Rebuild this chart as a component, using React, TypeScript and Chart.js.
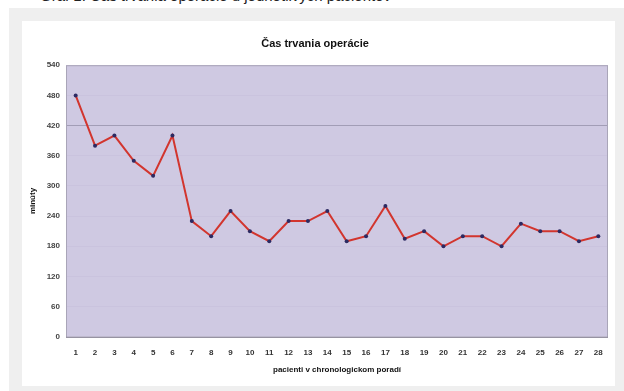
import React, { useEffect, useRef } from "react";
import { Chart, registerables } from "chart.js";

Chart.register(...registerables);

// Operation time (minutes) for each patient in chronological order
const patients: string[] = [
  "1", "2", "3", "4", "5", "6", "7", "8", "9", "10", "11", "12", "13", "14",
  "15", "16", "17", "18", "19", "20", "21", "22", "23", "24", "25", "26", "27", "28",
];
const minutes: number[] = [
  480, 380, 400, 350, 320, 400, 230, 200, 250, 210, 190, 230, 230, 250,
  190, 200, 260, 195, 210, 180, 200, 200, 180, 225, 210, 210, 190, 200,
];
const yTicks: number[] = [0, 60, 120, 180, 240, 300, 360, 420, 480, 540];

const chartTitle = "Čas trvania operácie";
const yTitle = "minúty";
const xTitle = "pacienti v chronologickom poradí";
const caption = "Graf 1. Čas trvania operácie u jednotlivých pacientov";

const FONT = "'Liberation Sans', Arial, sans-serif";

// Lavender plot area with a thin border, painted before the datasets
const plotBackground = {
  id: "plotBackground",
  beforeDraw(chart: Chart) {
    const { ctx, chartArea } = chart;
    if (!chartArea) return;
    ctx.save();
    ctx.fillStyle = "#cfc9e2";
    ctx.fillRect(chartArea.left, chartArea.top, chartArea.right - chartArea.left, chartArea.bottom - chartArea.top);
    ctx.restore();
  },
  afterDatasetsDraw(chart: Chart) {
    const { ctx, chartArea } = chart;
    if (!chartArea) return;
    ctx.save();
    ctx.strokeStyle = "#a9a5b8";
    ctx.lineWidth = 1;
    ctx.strokeRect(chartArea.left + 0.5, chartArea.top + 0.5, chartArea.right - chartArea.left - 1, chartArea.bottom - chartArea.top);
    ctx.strokeStyle = "#8e8a99";
    ctx.beginPath();
    ctx.moveTo(chartArea.left, chartArea.bottom + 0.5);
    ctx.lineTo(chartArea.right, chartArea.bottom + 0.5);
    ctx.stroke();
    ctx.restore();
  },
};

export default function App() {
  const canvasRef = useRef<HTMLCanvasElement | null>(null);

  useEffect(() => {
    document.body.style.margin = "0";
    const canvas = canvasRef.current;
    if (!canvas) return;
    const chart = new Chart(canvas, {
      type: "line",
      data: {
        labels: patients,
        datasets: [
          {
            data: minutes,
            borderColor: "#d2352e",
            borderWidth: 2,
            pointRadius: 2,
            pointBackgroundColor: "#2c2a62",
            pointBorderColor: "#2c2a62",
            pointBorderWidth: 0,
            tension: 0,
          },
        ],
      },
      options: {
        responsive: false,
        animation: false,
        devicePixelRatio: 1,
        layout: { padding: { top: 0, right: 7, bottom: 0, left: 0 } },
        plugins: {
          legend: { display: false },
          tooltip: { enabled: false },
          title: {
            display: true,
            text: chartTitle,
            color: "#111",
            font: { family: FONT, size: 11, weight: "bold" },
            padding: { top: 16, bottom: 15 },
          },
        },
        scales: {
          x: {
            offset: true,
            grid: { display: false, drawTicks: false },
            border: { display: false },
            ticks: {
              color: "#333",
              font: { family: FONT, size: 8, weight: "bold" },
              padding: 11,
              maxRotation: 0,
              autoSkip: false,
            },
            title: {
              display: true,
              text: xTitle,
              color: "#111",
              font: { family: FONT, size: 8, weight: "bold" },
              padding: { top: -3, bottom: 11 },
            },
          },
          y: {
            min: 0,
            max: 540,
            afterBuildTicks(scale: any) {
              scale.ticks = yTicks.map((v) => ({ value: v }));
            },
            afterFit(scale: any) {
              scale.width = 44;
            },
            grid: {
              drawTicks: false,
              color: (c: any) => (c.tick && c.tick.value === 420 ? "#a29db6" : "rgba(170,160,200,0.12)"),
              lineWidth: 1,
            },
            border: { display: false },
            ticks: {
              color: "#444",
              font: { family: FONT, size: 8, weight: "bold" },
              padding: 6,
            },
            title: {
              display: true,
              text: yTitle,
              color: "#111",
              font: { family: FONT, size: 8, weight: "bold" },
              padding: { top: 6, bottom: 0 },
            },
          },
        },
      },
      plugins: [plotBackground],
    });
    return () => chart.destroy();
  }, []);

  return (
    <div
      style={{
        position: "relative",
        width: 624,
        height: 391,
        background: "#ffffff",
        overflow: "hidden",
        fontFamily: FONT,
      }}
    >
      <div
        style={{
          position: "absolute",
          left: 40,
          top: -12,
          fontSize: 15,
          lineHeight: "15px",
          color: "#222",
          whiteSpace: "nowrap",
        }}
      >
        {caption}
      </div>
      <div
        style={{
          position: "absolute",
          left: 9,
          top: 8,
          right: 0,
          bottom: 0,
          background: "#efefef",
        }}
      />
      <div
        style={{
          position: "absolute",
          left: 22,
          top: 21,
          width: 593,
          height: 365,
          background: "#ffffff",
        }}
      >
        <canvas ref={canvasRef} width={593} height={365} style={{ display: "block" }} />
      </div>
    </div>
  );
}
